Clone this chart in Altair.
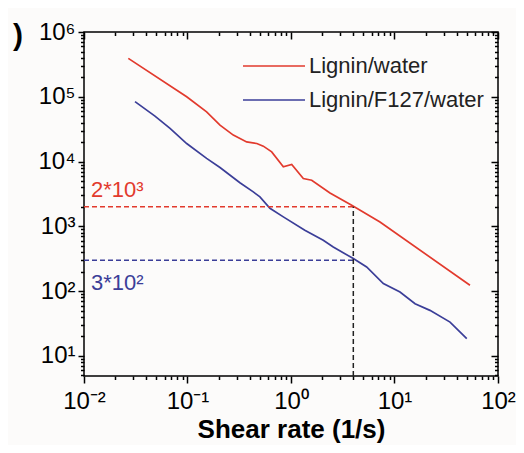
import altair as alt
import pandas as pd

# ---- data ----
red_x = [0.0268, 0.0982, 0.153, 0.206, 0.277, 0.373, 0.467, 0.540, 0.651, 0.843,
         1.016, 1.315, 1.585, 2.38, 3.86, 7.24, 53.6]
red_y = [3.92e5, 1.0e5, 5.86e4, 3.65e4, 2.56e4, 2.01e4, 1.90e4, 1.73e4, 1.41e4, 8.28e3,
         9.02e3, 5.48e3, 5.16e3, 3.28e3, 2.12e3, 1.17e3, 123]
blue_x = [0.0311, 0.0485, 0.0678, 0.0982, 0.153, 0.206, 0.321, 0.432, 0.501, 0.626,
          0.843, 1.36, 2.05, 2.56, 4.0, 5.38, 7.80, 11.3, 15.8, 22.0, 34.4, 49.9]
blue_y = [8.43e4, 5.03e4, 3.25e4, 1.90e4, 1.12e4, 8.10e3, 4.72e3, 3.40e3, 2.85e3, 1.90e3,
          1.40e3, 871, 610, 481, 318, 236, 131, 96.8, 64.1, 50.5, 33.3, 18.5]

series_names = ["Lignin/water", "Lignin/F127/water"]
series_colors = ["#e23a2d", "#3b3e98"]

x_tick_values = [0.01, 0.1, 1, 10, 100]
x_tick_labels = ["10\u207b\u00b2", "10\u207b\u00b9", "10\u2070", "10\u00b9", "10\u00b2"]
y_tick_values = [10, 100, 1000, 10000, 100000, 1000000]
y_tick_labels = ["10\u00b9", "10\u00b2", "10\u00b3", "10\u2074", "10\u2075", "10\u2076"]
x_minor = [m * 10.0 ** e for e in range(-2, 2) for m in range(2, 10)]
y_minor = [float(m) for m in range(5, 10)] + [m * 10.0 ** e for e in range(1, 6) for m in range(2, 10)]

x_domain = [0.01, 100]
y_domain = [4.9, 1e6]

ref_x = 4.0
red_level = 2000
blue_level = 300
red_label = "2*10\u00b3"
blue_label = "3*10\u00b2"
x_title = "Shear rate (1/s)"
panel_label = ")"

W, H = 414, 344
FONT = "Liberation Sans"

lines = pd.concat([
    pd.DataFrame({"x": red_x, "y": red_y, "series": series_names[0]}),
    pd.DataFrame({"x": blue_x, "y": blue_y, "series": series_names[1]}),
])

rules = pd.DataFrame({
    "x": [x_domain[0], x_domain[0], ref_x],
    "x2": [ref_x, ref_x, ref_x],
    "y": [red_level, blue_level, y_domain[0]],
    "y2": [red_level, blue_level, red_level],
    "c": [series_colors[0], series_colors[1], "#222222"],
})

xs = alt.Scale(type="log", domain=x_domain, nice=False)
ys = alt.Scale(type="log", domain=y_domain, nice=False)

x_expr = "[" + ",".join("'%s'" % s for s in x_tick_labels) + "][round(log(datum.value)/LN10) + 2]"
y_expr = "[" + ",".join("'%s'" % s for s in y_tick_labels) + "][round(log(datum.value)/LN10) - 1]"

tick_common = dict(domain=False, grid=False, tickColor="black", tickWidth=1.5)

main = alt.Chart(lines).mark_line(strokeWidth=1.7).encode(
    x=alt.X("x:Q", scale=xs, axis=alt.Axis(
        orient="bottom", values=x_tick_values, tickSize=7, labelExpr=x_expr,
        labelFont=FONT, labelFontSize=24, labelColor="black", labelPadding=6,
        labelFlush=False, labelOverlap=False,
        title=x_title, titleFont=FONT, titleFontSize=26, titleFontWeight="bold",
        titleColor="black", titlePadding=3, **tick_common)),
    y=alt.Y("y:Q", scale=ys, axis=alt.Axis(
        orient="left", values=y_tick_values, tickSize=6, labelExpr=y_expr,
        labelFont=FONT, labelFontSize=24, labelColor="black", labelPadding=3,
        labelFlush=False, labelOverlap=False, title=None, **tick_common)),
    color=alt.Color("series:N", scale=alt.Scale(domain=series_names, range=series_colors),
                    legend=None),
)

def axis_layer(xvals, yvals, size, xoff, yoff):
    return alt.Chart(lines).mark_line(opacity=0).encode(
        x=alt.X("x:Q", scale=xs, axis=alt.Axis(orient="bottom", values=xvals, tickSize=size,
                                               labels=False, title=None, offset=xoff, **tick_common)),
        y=alt.Y("y:Q", scale=ys, axis=alt.Axis(orient="left", values=yvals, tickSize=size,
                                               labels=False, title=None, offset=yoff, **tick_common)),
    )

minor = axis_layer(x_minor, y_minor, 3.5, 0, 0)
mirror_major = axis_layer(x_tick_values, y_tick_values, 7, -H, -W)
mirror_minor = axis_layer(x_minor, y_minor, 3.5, -H, -W)

rule_layer = alt.Chart(rules).mark_rule(strokeWidth=1.5, strokeDash=[5, 3]).encode(
    x=alt.X("x:Q", scale=xs, axis=None), x2="x2:Q",
    y=alt.Y("y:Q", scale=ys, axis=None), y2="y2:Q",
    color=alt.Color("c:N", scale=None),
)

def note(level, label, color, dy):
    return alt.Chart(pd.DataFrame({"x": [x_domain[0]], "y": [level], "t": [label]})).mark_text(
        align="left", baseline="alphabetic", dx=7, dy=dy, font=FONT, fontSize=22,
        color=color).encode(x=alt.X("x:Q", scale=xs, axis=None),
                            y=alt.Y("y:Q", scale=ys, axis=None), text="t:N")

red_text = note(red_level, red_label, series_colors[0], -10)
blue_text = note(blue_level, blue_label, series_colors[1], 30)

panel = alt.Chart(pd.DataFrame({"t": [panel_label]})).mark_text(
    align="left", baseline="middle", font=FONT, fontSize=30, fontWeight="bold", color="black"
).encode(x=alt.value(-71), y=alt.value(4), text="t:N")

# manual legend (line sample + label), one row per series
legend_layers = []
for i, (name, col) in enumerate(zip(series_names, series_colors)):
    row_y = 34 + 34 * i
    d = pd.DataFrame({"t": [name]})
    legend_layers.append(alt.Chart(d).mark_rule(strokeWidth=1.7, color=col).encode(
        x=alt.value(159), x2=alt.value(221), y=alt.value(row_y)))
    legend_layers.append(alt.Chart(d).mark_text(
        align="left", baseline="middle", font=FONT, fontSize=22, color="#222222").encode(
        x=alt.value(225), y=alt.value(row_y), text="t:N"))

chart = alt.layer(
    main, minor, mirror_major, mirror_minor, rule_layer, red_text, blue_text, panel,
    *legend_layers
).resolve_axis(x="independent", y="independent").properties(
    width=W, height=H,
    autosize=alt.AutoSizeParams(type="none"),
    padding={"left": 76, "top": 24, "right": 18, "bottom": 69},
    background="#fcfbfa",
).configure_view(stroke="black", strokeWidth=1.5)

chart.save("out.html", embed_options={"renderer": "svg", "actions": False})
